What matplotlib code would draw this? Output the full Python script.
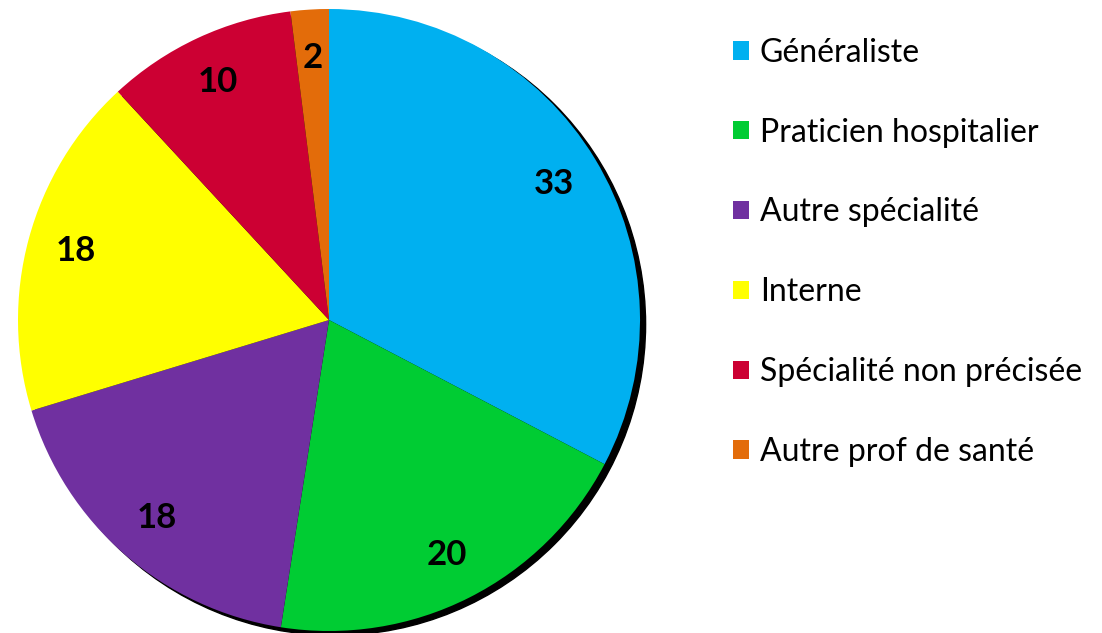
import matplotlib.pyplot as plt
from matplotlib.patches import Circle

# données
categories = ["Généraliste", "Praticien hospitalier", "Autre spécialité",
              "Interne", "Spécialité non précisée", "Autre prof de santé"]
values = [33, 20, 18, 18, 10, 2]
colors = ["#00B0F0", "#00CC33", "#7030A0", "#FFFF00", "#CC0033", "#E36C0A"]

plt.rcParams["font.family"] = ["Lato", "DejaVu Sans"]

W, H = 1102, 633
fig = plt.figure(figsize=(W / 100, H / 100), dpi=100)

# axe carré pour le camembert (pixels 18..640 en x, 9..631 en y)
ax = fig.add_axes([18 / W, 2 / H, 622 / W, 622 / H])
ax.axis("off")

# ombre
ax.add_patch(Circle((0.018, -0.014), 1.0, color="black", zorder=0, clip_on=False))

wedges, texts = ax.pie(values, colors=colors, startangle=90, counterclock=False,
                       radius=1.0, labels=[str(v) for v in values],
                       labeldistance=0.845, frame=False,
                       wedgeprops=dict(linewidth=0, zorder=1, clip_on=False))
ax.set_xlim(-1.0, 1.0)
ax.set_ylim(-1.0, 1.0)
ax.set_aspect("equal")
for t in texts:
    t.set_fontsize(25)
    t.set_fontweight("bold")
    t.set_ha("center")
    t.set_va("center")
    t.set_zorder(3)

fig.legend(wedges, categories, loc="upper left",
           bbox_to_anchor=(704 / W, 1 - 9 / H), frameon=False,
           fontsize=23, handlelength=0.5, handleheight=0.5,
           handletextpad=0.35, labelspacing=1.56)

fig.savefig("out.png", dpi=100)
